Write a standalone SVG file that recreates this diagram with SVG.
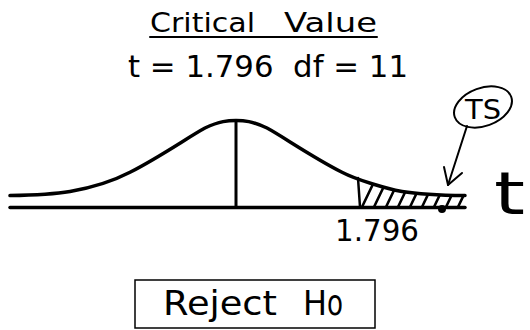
<svg xmlns="http://www.w3.org/2000/svg" width="530" height="330" viewBox="0 0 530 330">
<style>
  .txt { font-family: "DejaVu Sans", "Liberation Sans", sans-serif; fill: #000; }
  .hand { font-family: "DejaVu Sans", "Liberation Sans", sans-serif; fill: #000; }
  .ln { stroke: #000; fill: none; stroke-linecap: round; stroke-linejoin: round; }
</style>
<defs>
  <clipPath id="tail">
    <path d="M358,178 C 372,184.6 387,188.7 402,191.5 C 420,194 440,195.2 465,195.6 L 465,208 L 358,208 Z"/>
  </clipPath>
</defs>
<rect width="530" height="330" fill="#fff"/>

<g id="title">
  <text class="txt" y="32" font-size="27"><tspan x="150" textLength="105" lengthAdjust="spacingAndGlyphs">Critical</tspan><tspan x="284" textLength="93" lengthAdjust="spacingAndGlyphs">Value</tspan></text>
  <line class="ln" x1="150" y1="37" x2="377" y2="37" stroke-width="2"/>
</g>

<g id="critical-value">
  <text class="txt" x="128" y="77" font-size="31" textLength="280" lengthAdjust="spacingAndGlyphs" xml:space="preserve">t = 1.796  df = 11</text>
</g>

<g id="distribution">
  <line class="ln" x1="10" y1="207.5" x2="465" y2="207.5" stroke-width="3.5"/>
  <path class="ln" stroke-width="3.5" d="M10,195.6 C 40,195 55,194 70,191.5 C 95,187 115,180 130,172.2 C 160,157 190,136 205,128 C 220,121 228,120.5 236,120.5 C 244,120.5 252,121 267,128 C 282,136 312,157 342,172.2 C 357,180 387,188.7 402,191.5 C 420,194.5 440,195.3 465,195.6"/>
  <line class="ln" x1="236" y1="121" x2="236" y2="207" stroke-width="3"/>
  <line class="ln" x1="358" y1="178" x2="360" y2="207" stroke-width="2.5"/>
  <g clip-path="url(#tail)" class="ln" stroke-width="2.6">
    <line x1="362" y1="207" x2="374" y2="182"/>
    <line x1="374" y1="207" x2="386" y2="182"/>
    <line x1="386" y1="207" x2="398" y2="182"/>
    <line x1="398" y1="207" x2="410" y2="182"/>
    <line x1="410" y1="207" x2="422" y2="182"/>
    <line x1="422" y1="207" x2="434" y2="182"/>
    <line x1="434" y1="207" x2="446" y2="182"/>
    <line x1="446" y1="207" x2="458" y2="182"/>
    <line x1="458" y1="207" x2="470" y2="182"/>
  </g>
  <circle cx="442" cy="209" r="4" fill="#000"/>
  <text class="hand" x="335" y="241" font-size="30" textLength="84" lengthAdjust="spacingAndGlyphs">1.796</text>
  <text class="hand" x="494" y="214" font-size="58" textLength="31" lengthAdjust="spacingAndGlyphs">t</text>
</g>

<g id="ts">
  <ellipse class="ln" cx="483" cy="107" rx="30" ry="19" transform="rotate(-20 483 107)" stroke-width="2"/>
  <text class="hand" x="465" y="119" font-size="26" textLength="36" lengthAdjust="spacingAndGlyphs">TS</text>
</g>

<g id="connectors">
  <line class="ln" x1="467" y1="126" x2="448" y2="185" stroke-width="2"/>
  <polyline class="ln" points="444,167 448,185 462,173" stroke-width="2"/>
</g>

<g id="decision">
  <rect x="135" y="280" width="240" height="48" fill="none" stroke="#000" stroke-width="1.5"/>
  <text class="txt" y="315" font-size="33"><tspan x="163" textLength="114" lengthAdjust="spacingAndGlyphs">Reject</tspan><tspan x="303" textLength="24" lengthAdjust="spacingAndGlyphs">H</tspan><tspan font-size="36" textLength="16" lengthAdjust="spacingAndGlyphs">o</tspan></text>
</g>
</svg>
